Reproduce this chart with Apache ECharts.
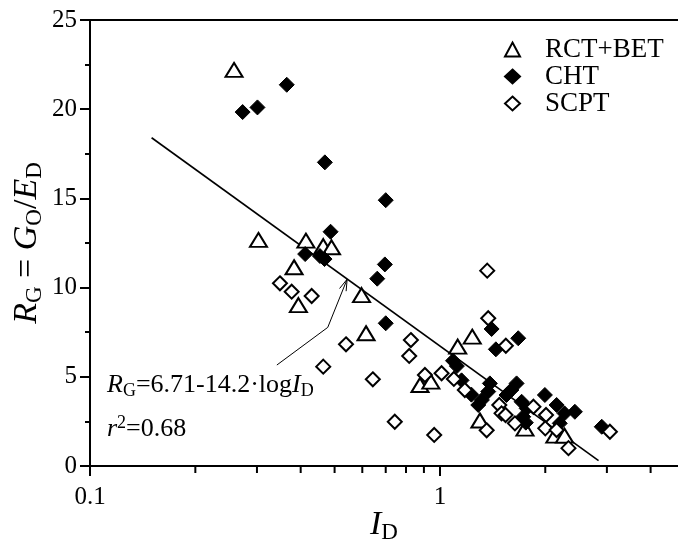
<!DOCTYPE html>
<html>
<head>
<meta charset="utf-8">
<script src="https://cdn.jsdelivr.net/npm/echarts@6/dist/echarts.min.js"></script>
<style>
  html, body { margin: 0; padding: 0; background: #fff; }
  #main { width: 678px; height: 540px; }
</style>
</head>
<body>
<div id="main"></div>
<script>
// data: [I_D, R_G]
var rctBet = [
  [0.258, 22.2], [0.303, 12.67], [0.414, 12.63], [0.464, 12.33], [0.49, 12.26],
  [0.383, 11.14], [0.394, 9.02], [0.597, 9.58], [0.615, 7.44], [0.877, 4.54],
  [0.942, 4.73], [1.124, 6.69], [1.237, 7.25], [1.301, 2.55], [1.75, 2.1],
  [2.13, 1.7], [2.27, 1.7]
];
var cht = [
  [0.273, 19.84], [0.301, 20.1], [0.365, 21.37], [0.469, 17.02], [0.487, 13.13],
  [0.70, 14.9], [0.412, 11.88], [0.454, 11.77], [0.468, 11.6], [0.662, 10.5],
  [0.696, 11.3], [0.70, 8.0], [1.09, 5.9], [1.118, 5.6], [1.153, 4.8],
  [1.23, 4.0], [1.287, 3.42], [1.318, 3.7], [1.374, 4.17], [1.389, 4.63],
  [1.405, 7.68], [1.445, 6.54], [1.674, 7.16], [1.55, 3.98], [1.60, 4.26],
  [1.656, 4.63], [1.712, 3.6], [1.77, 3.23], [1.73, 2.76], [1.76, 2.43],
  [1.995, 3.98], [2.155, 3.42], [2.27, 2.95], [2.43, 3.04], [2.2, 2.39],
  [2.9, 2.2]
];
var scpt = [
  [0.349, 10.24], [0.377, 9.77], [0.43, 9.53], [0.464, 5.57], [0.539, 6.82],
  [0.643, 4.86], [0.743, 2.48], [0.817, 6.17], [0.826, 7.06], [0.906, 5.1],
  [0.963, 1.74], [1.011, 5.2], [1.096, 4.88], [1.178, 4.26], [1.36, 2.0],
  [1.365, 10.95], [1.374, 8.28], [1.478, 3.42], [1.5, 2.95], [1.543, 6.74],
  [1.54, 2.86], [1.638, 2.39], [1.85, 3.32], [2.01, 2.86], [2.0, 2.11],
  [2.155, 2.02], [2.33, 1.0], [3.06, 1.92]
];
// fitted line end points and the arrow path
var fitLine = [[0.15, 18.4], [2.84, 0.3]];
var arrowPath = [[0.342, 5.66], [0.478, 7.77], [0.543, 10.47]];
var xMinorTicks = [0.2, 0.3, 0.4, 0.5, 0.6, 0.7, 0.8, 0.9, 2, 3, 4];
var xMajorLabels = [0.1, 1];

var FONT = 'Liberation Serif';

var chart = echarts.init(document.getElementById('main'));

function subRich(fs) {
  return {
    n: { fontFamily: FONT, fontSize: fs, color: '#000', lineHeight: fs + 4 },
    i: { fontFamily: FONT, fontSize: fs, color: '#000', fontStyle: 'italic', lineHeight: fs + 4 },
    s: { fontFamily: FONT, fontSize: Math.round(fs * 0.68), color: '#000', lineHeight: Math.round(fs * 0.5), verticalAlign: 'bottom' },
    p: { fontFamily: FONT, fontSize: Math.round(fs * 0.68), color: '#000', lineHeight: Math.round(fs * 0.5), verticalAlign: 'top' }
  };
}

var option = {
  animation: false,
  backgroundColor: '#fff',
  grid: { left: 90, top: 20, right: 0, bottom: 74, outerBoundsMode: 'none' },
  legend: {
    data: ['RCT+BET', 'CHT', 'SCPT'],
    orient: 'vertical',
    left: 499,
    top: 31,
    itemGap: 0,
    itemWidth: 15,
    itemHeight: 14,
    textStyle: { fontFamily: FONT, fontSize: 27, color: '#000', lineHeight: 27, padding: [0, 0, 0, 20] }
  },
  xAxis: [{
    type: 'log',
    logBase: 10,
    min: 0.1,
    max: 4.79,
    name: '{i|I}{s|D}',
    nameLocation: 'middle',
    nameGap: 40,
    nameMoveOverlap: false,
    nameTextStyle: { rich: subRich(34) },
    axisLine: { lineStyle: { color: '#000', width: 2 } },
    axisTick: { inside: false, length: 10, lineStyle: { color: '#000', width: 2 } },
    axisLabel: {
      fontFamily: FONT, fontSize: 25, color: '#000', margin: 19,
      showMaxLabel: false,
      formatter: function (v) {
        for (var k = 0; k < xMajorLabels.length; k++) {
          if (Math.abs(v - xMajorLabels[k]) < 1e-6) return String(xMajorLabels[k]);
        }
        return '';
      }
    },
    splitLine: { show: false }
  }, {
    type: 'value',
    position: 'top',
    min: 0, max: 1,
    axisLine: { show: true, lineStyle: { color: '#000', width: 2 } },
    axisTick: { show: false },
    axisLabel: { show: false },
    splitLine: { show: false }
  }],
  yAxis: {
    type: 'value',
    min: 0,
    max: 25,
    interval: 5,
    name: '{i|R}{s|G}{n| = }{i|G}{s|O}{n|/}{i|E}{s|D}',
    nameLocation: 'middle',
    nameGap: 44,
    nameMoveOverlap: false,
    nameTextStyle: { rich: subRich(34) },
    axisLine: { show: true, lineStyle: { color: '#000', width: 2 } },
    axisTick: { show: true, length: 10, lineStyle: { color: '#000', width: 2 } },
    minorTick: { show: true, splitNumber: 2, length: 5, lineStyle: { color: '#000', width: 2 } },
    axisLabel: { fontFamily: FONT, fontSize: 25, color: '#000', margin: 13 },
    splitLine: { show: false }
  },
  graphic: [{
    type: 'text',
    left: 107,
    top: 372,
    style: {
      text: '{i|R}{s|G}{n|=6.71-14.2·log}{i|I}{s|D}',
      rich: subRich(26)
    }
  }, {
    type: 'text',
    left: 107,
    top: 414,
    style: {
      text: '{i|r}{p|2}{n|=0.68}',
      rich: subRich(26)
    }
  }],
  series: [{
    name: 'RCT+BET',
    type: 'scatter',
    symbol: 'triangle',
    symbolSize: [17, 14],
    itemStyle: { color: '#fff', borderColor: '#000', borderWidth: 2, opacity: 1 },
    data: rctBet
  }, {
    name: 'CHT',
    type: 'scatter',
    symbol: 'diamond',
    symbolSize: 15,
    itemStyle: { color: '#000', borderColor: '#000', borderWidth: 1, opacity: 1 },
    data: cht
  }, {
    name: 'SCPT',
    type: 'scatter',
    symbol: 'diamond',
    symbolSize: 14,
    itemStyle: { color: '#fff', borderColor: '#000', borderWidth: 2, opacity: 1 },
    data: scpt
  }, {
    name: 'fit',
    type: 'line',
    data: fitLine,
    showSymbol: false,
    symbol: 'none',
    lineStyle: { color: '#000', width: 1.6 },
    z: 1
  }, {
    name: 'arrow',
    type: 'custom',
    data: arrowPath,
    renderItem: function (params, api) {
      if (params.dataIndex !== 0) return;
      var pts = arrowPath.map(function (d) { return api.coord(d); });
      var tip = pts[pts.length - 1];
      var prev = pts[pts.length - 2];
      var ang = Math.atan2(tip[1] - prev[1], tip[0] - prev[0]);
      var L = 12, spread = 0.3;
      var a1 = [tip[0] - L * Math.cos(ang - spread), tip[1] - L * Math.sin(ang - spread)];
      var a2 = [tip[0] - L * Math.cos(ang + spread), tip[1] - L * Math.sin(ang + spread)];
      return {
        type: 'group',
        children: [{
          type: 'polyline',
          shape: { points: pts },
          style: { stroke: '#000', lineWidth: 1, fill: null }
        }, {
          type: 'polyline',
          shape: { points: [a1, tip, a2] },
          style: { stroke: '#000', lineWidth: 1, fill: null }
        }]
      };
    },
    z: 5
  }, {
    name: 'minorTicks',
    type: 'custom',
    data: xMinorTicks.map(function (v) { return [v, 0]; }),
    clip: false,
    renderItem: function (params, api) {
      var p = api.coord([api.value(0), 0]);
      return {
        type: 'line',
        shape: { x1: p[0], y1: p[1], x2: p[0], y2: p[1] + 7 },
        style: { stroke: '#000', lineWidth: 2 }
      };
    },
    z: 5
  }]
};

chart.setOption(option);
</script>
</body>
</html>
